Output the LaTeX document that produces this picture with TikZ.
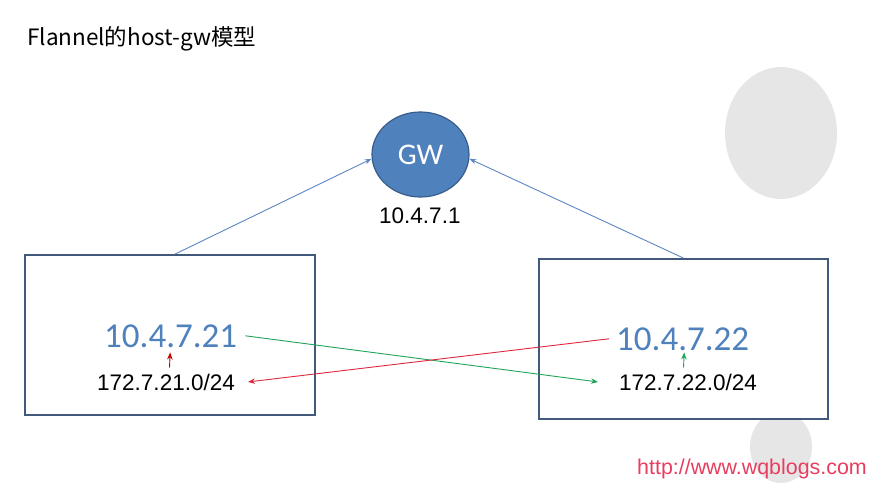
\documentclass[tikz,border=0pt]{standalone}
\usepackage{fontspec}
\setmainfont{Liberation Sans}
\newfontfamily\cjk{Noto Sans CJK SC}
\newfontfamily\calib{Carlito}
\usetikzlibrary{arrows.meta,shapes.geometric}

\definecolor{gwblue}{HTML}{4F81BD}
\definecolor{gwline}{HTML}{385D8A}
\definecolor{boxline}{HTML}{41597A}
\definecolor{linkblue}{HTML}{5B86C1}
\definecolor{routegreen}{HTML}{1FA35A}
\definecolor{routered}{HTML}{E0283C}
\definecolor{tipred}{HTML}{C00000}
\definecolor{urlred}{HTML}{E83D5E}
\definecolor{bggray}{HTML}{E6E6E6}

\tikzset{
  host/.style={draw=boxline, line width=1.8pt, fill=white, inner sep=0pt,
    minimum width=290pt, minimum height=160pt},
  gwnode/.style={ellipse, draw=gwline, line width=1.2pt, fill=gwblue, text=white,
    minimum width=97pt, minimum height=85pt, inner sep=0pt,
    font=\calib\fontsize{30}{30}\selectfont},
  ip/.style={anchor=base west, inner sep=0pt, text=gwblue,
    font=\calib\fontsize{35}{35}\selectfont},
  subnet/.style={anchor=base west, inner sep=0pt, font=\fontsize{22.5}{22.5}\selectfont},
  uplink/.style={draw=linkblue, line width=0.9pt, -{Stealth[length=7pt,width=5pt]}},
  route/.style={line width=0.9pt, -{Stealth[length=7pt,width=5.5pt]}}
}

\begin{document}
\begin{tikzpicture}[x=1pt,y=-1pt]
  \useasboundingbox (0,0) rectangle (874,482);

  % grey shapes in the background
  \fill[bggray] (781,133) ellipse [x radius=56, y radius=66];
  \fill[bggray] (781,447) ellipse [x radius=31, y radius=36];

  % title
  \node[anchor=base west, inner sep=0pt, font=\cjk\fontsize{22.5}{22.5}\selectfont] (title)
    at (27,45) {Flannel的host-gw模型};

  % gateway
  \node[gwnode] (gw) at (420.5,154.5) {GW};
  \node[subnet] (gwip) at (379,223) {10.4.7.1};

  % the two hosts
  \node[host] (hostA) at (170,335) {};
  \node[host, minimum width=289pt] (hostB) at (683.5,339) {};

  \node[ip] (ipA) at (104,347) {10.4.7.21};
  \node[subnet] (subnetA) at (97,390) {172.7.21.0/24};
  \node[ip] (ipB) at (616,350) {10.4.7.22};
  \node[subnet] (subnetB) at (619,390) {172.7.22.0/24};

  % links to the gateway
  \draw[uplink] ([xshift=5pt]hostA.north) -- (gw.185);
  \draw[uplink] (hostB.north) -- (gw.355);

  % routes between the hosts
  \draw[route, routegreen] ([xshift=8pt]ipA.east) -- ([xshift=-21pt]subnetB.west);
  \draw[route, routered] ([xshift=-7pt]ipB.west) -- ([xshift=13pt]subnetA.east);
  \draw[route, tipred] ([xshift=3.5pt,yshift=6pt]subnetA.north) -- ([xshift=-0.5pt,yshift=-5pt]ipA.south);
  \draw[route, routegreen] ([xshift=-4.5pt,yshift=6pt]subnetB.north) -- ([xshift=1.5pt,yshift=-2pt]ipB.south);

  % watermark
  \node[anchor=base west, inner sep=0pt, text=urlred, font=\fontsize{21.4}{21.4}\selectfont] (url)
    at (637,474) {http://www.wqblogs.com};
\end{tikzpicture}
\end{document}
